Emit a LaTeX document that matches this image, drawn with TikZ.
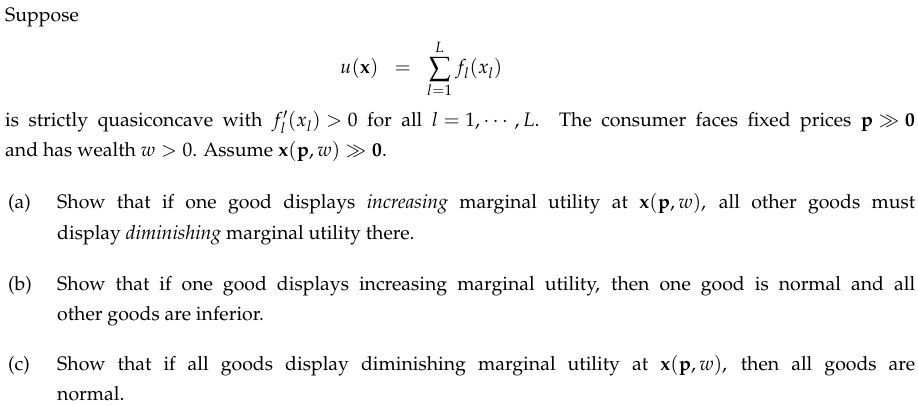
\documentclass[tikz,border=0pt]{standalone}
\usepackage[T1]{fontenc}
\usepackage{mathpazo}
\usepackage{amssymb,amsmath}
\thickmuskip=5mu
\medmuskip=4mu
\begin{document}
\begin{tikzpicture}[x=1pt,y=-1pt,
  txt/.style={anchor=base west,inner sep=0pt,font=\fontfamily{ppl}\fontsize{19.5}{30}\selectfont}]
\useasboundingbox (0,0) rectangle (918,406);
\node[txt] (s) at (5,22) {Suppose};
\node[txt] (eq) at (340,74) {$u(\mathbf{x}) \;\;=\;\; \displaystyle\sum_{l=1}^{L} f_l(x_l)$};
\node[txt] (p1) at (5,127) {\makebox[910pt][s]{is strictly quasiconcave with $f_l'(x_l)>0$ for all $l=1,\cdots,L$. The consumer faces fixed prices $\mathbf{p}\gg\mathbf{0}$}};
\node[txt] (p2) at (5,157) {and has wealth $w>0$. Assume $\mathbf{x}(\mathbf{p},w)\gg\mathbf{0}$.};
\node[txt] (la) at (8,208) {(a)};
\node[txt] (a1) at (57,208) {\makebox[858pt][s]{Show that if one good displays \textit{increasing} marginal utility at $\mathbf{x}(\mathbf{p},w)$, all other goods must}};
\node[txt] (a2) at (57,240) {display \textit{diminishing} marginal utility there.};
\node[txt] (lb) at (8,290) {(b)};
\node[txt] (b1) at (57,290) {\makebox[858pt][s]{Show that if one good displays increasing marginal utility, then one good is normal and all}};
\node[txt] (b2) at (57,320) {other goods are inferior.};
\node[txt] (lc) at (8,370) {(c)};
\node[txt] (c1) at (57,370) {\makebox[858pt][s]{Show that if all goods display diminishing marginal utility at $\mathbf{x}(\mathbf{p},w)$, then all goods are}};
\node[txt] (c2) at (57,400) {normal.};
\end{tikzpicture}
\end{document}
